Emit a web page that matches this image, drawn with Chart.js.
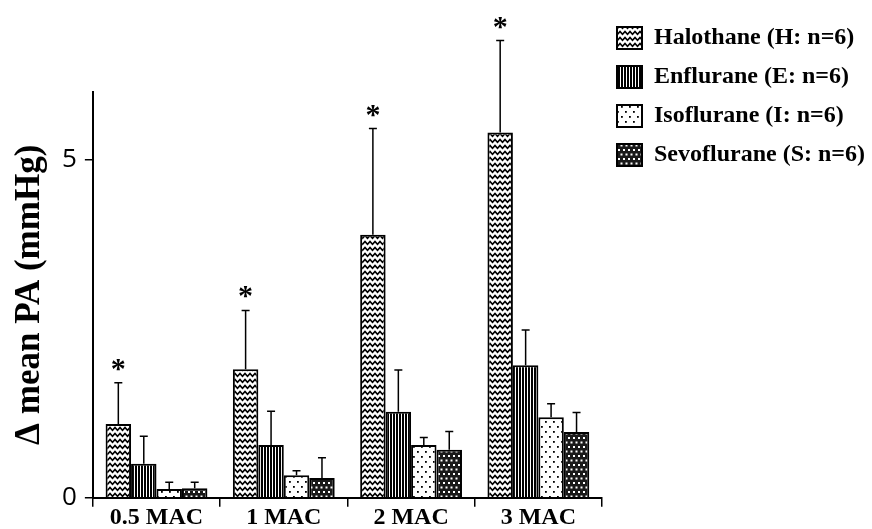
<!DOCTYPE html>
<html><head><meta charset="utf-8">
<script src="https://cdn.jsdelivr.net/npm/chart.js@4"></script>
<style>html,body{margin:0;padding:0;background:#fff;}</style>
</head><body>
<canvas id="c" width="872" height="529"></canvas>
<script>
const categories = ['0.5 MAC', '1 MAC', '2 MAC', '3 MAC'];
const seriesNames = ['Halothane (H: n=6)', 'Enflurane (E: n=6)', 'Isoflurane (I: n=6)', 'Sevoflurane (S: n=6)'];
const halothaneMean = [1.09, 1.90, 3.89, 5.40];
const halothaneSD   = [0.61, 0.87, 1.57, 1.36];
const enfluraneMean = [0.50, 0.78, 1.27, 1.96];
const enfluraneSD   = [0.41, 0.50, 0.62, 0.52];
const isofluraneMean = [0.13, 0.33, 0.78, 1.19];
const isofluraneSD   = [0.10, 0.07, 0.11, 0.20];
const sevofluraneMean = [0.14, 0.29, 0.71, 0.97];
const sevofluraneSD   = [0.09, 0.30, 0.27, 0.29];
const halothaneSignificant = [true, true, true, true];
const yTickValues = [0, 5];

const LEGEND_W = 270;

function makePattern(type) {
  const c = document.createElement('canvas');
  const x = c.getContext('2d');
  if (type === 'wave') {
    c.width = 5; c.height = 6;
    x.fillStyle = '#fff'; x.fillRect(0, 0, 5, 6);
    x.strokeStyle = '#000'; x.lineWidth = 1.6;
    x.beginPath(); x.moveTo(-2.5, 4.2); x.lineTo(0, 1.5); x.lineTo(2.5, 4.2); x.lineTo(5, 1.5); x.lineTo(7.5, 4.2); x.stroke();
  } else if (type === 'vlines') {
    c.width = 3; c.height = 3;
    x.fillStyle = '#fff'; x.fillRect(0, 0, 3, 3);
    x.fillStyle = '#000'; x.fillRect(0, 0, 2, 3);
  } else if (type === 'dots') {
    c.width = 8; c.height = 10;
    x.fillStyle = '#fff'; x.fillRect(0, 0, 8, 10);
    x.fillStyle = '#000';
    x.fillRect(1, 1, 1.8, 1.8); x.fillRect(5, 6, 1.8, 1.8);
  } else {
    c.width = 5; c.height = 9;
    x.fillStyle = '#1a1a1a'; x.fillRect(0, 0, 5, 9);
    x.fillStyle = '#fff';
    x.fillRect(0.5, 0.5, 2, 2); x.fillRect(3, 5, 2, 2);
  }
  return x.createPattern(c, 'repeat');
}

const legendWidthPlugin = {
  id: 'legendWidth',
  beforeLayout(chart) {
    const lg = chart.legend;
    if (lg && !lg._wPatched) {
      const f = lg.fit;
      lg.fit = function () {
        this.maxWidth = 500;
        f.call(this);
        this.width = LEGEND_W;
      };
      lg._wPatched = true;
    }
  }
};

const errorPlugin = {
  id: 'errbars',
  afterDatasetsDraw(chart) {
    const ctx = chart.ctx, ys = chart.scales.y;
    ctx.save();
    ctx.strokeStyle = '#000'; ctx.fillStyle = '#000'; ctx.lineWidth = 1.5;
    chart.data.datasets.forEach((ds, i) => {
      const meta = chart.getDatasetMeta(i);
      meta.data.forEach((bar, j) => {
        const top = ys.getPixelForValue(ds.data[j] + ds.sd[j]);
        ctx.beginPath();
        ctx.moveTo(bar.x, bar.y); ctx.lineTo(bar.x, top);
        ctx.moveTo(bar.x - 4, top); ctx.lineTo(bar.x + 4, top);
        ctx.stroke();
        if (ds.sig && ds.sig[j]) {
          ctx.font = 'bold 30px "Liberation Serif"';
          ctx.textAlign = 'center'; ctx.textBaseline = 'alphabetic';
          ctx.fillText('*', bar.x, top - 5);
        }
      });
    });
    ctx.restore();
  }
};

const means = [halothaneMean, enfluraneMean, isofluraneMean, sevofluraneMean];
const sds = [halothaneSD, enfluraneSD, isofluraneSD, sevofluraneSD];
const patterns = ['wave', 'vlines', 'dots', 'checker'];

new Chart(document.getElementById('c'), {
  type: 'bar',
  data: {
    labels: categories,
    datasets: seriesNames.map((n, i) => ({
      label: n,
      data: means[i],
      sd: sds[i],
      sig: i === 0 ? halothaneSignificant : null,
      backgroundColor: makePattern(patterns[i]),
      borderColor: '#000',
      borderWidth: 2,
      categoryPercentage: 0.8,
      barPercentage: 1.0
    }))
  },
  options: {
    responsive: false,
    animation: false,
    devicePixelRatio: 1,
    layout: { padding: { top: 11, left: 12, right: 0, bottom: 0 } },
    plugins: {
      tooltip: { enabled: false },
      title: { display: true, text: ' ', fullSize: false, position: 'top',
               font: { size: 10, lineHeight: 1 }, padding: { top: 71, bottom: 0 } },
      legend: {
        position: 'right', align: 'start',
        labels: {
          boxWidth: 25, boxHeight: 22, padding: 15, color: '#000',
          font: { family: 'Liberation Serif', weight: 'bold', size: 24 }
        }
      }
    },
    scales: {
      x: {
        grid: { display: true, drawOnChartArea: false, drawTicks: true, tickLength: 9, color: '#000', lineWidth: 1.5, offset: true },
        border: { display: true, color: '#000', width: 2 },
        ticks: { color: '#000', padding: 3, maxRotation: 0,
                 font: { family: 'Liberation Serif', weight: 'bold', size: 24, lineHeight: 0.68 } }
      },
      y: {
        min: 0, max: 6,
        afterBuildTicks: (s) => { s.ticks = yTickValues.map(v => ({ value: v })); },
        grid: { display: true, drawOnChartArea: false, drawTicks: true, tickLength: 8, color: '#000', lineWidth: 1.5 },
        border: { display: true, color: '#000', width: 2 },
        ticks: { color: '#000', padding: 8, font: { family: 'Open Sans', size: 26 } },
        title: { display: true, text: 'Δ mean PA (mmHg)', color: '#000',
                 font: { family: 'Liberation Serif', weight: 'bold', size: 35, lineHeight: 1 },
                 padding: { top: 0, bottom: 7 } }
      }
    }
  },
  plugins: [legendWidthPlugin, errorPlugin]
});
</script>
</body></html>
